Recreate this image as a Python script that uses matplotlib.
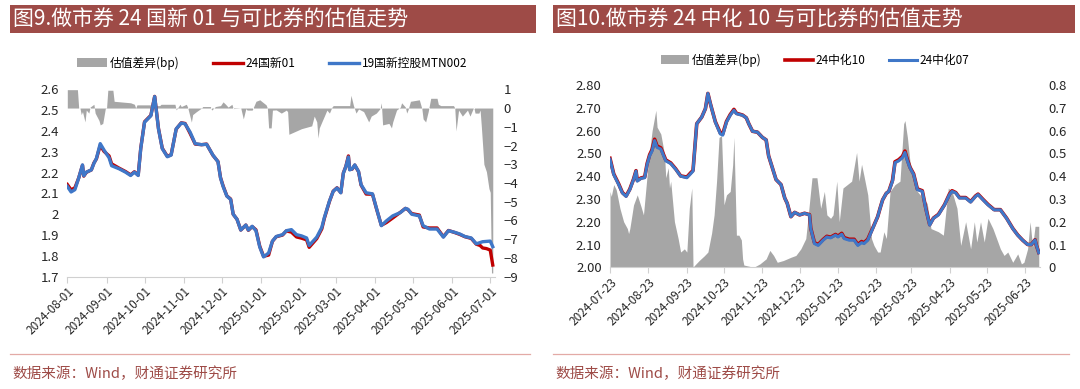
import numpy as np
import matplotlib
matplotlib.use('agg')
from matplotlib import pyplot as plt
import matplotlib.dates as md
from matplotlib.patches import Rectangle
from matplotlib.lines import Line2D
from matplotlib.ticker import FormatStrFormatter

plt.rcParams['font.family'] = ['Noto Sans CJK SC', 'DejaVu Sans']
plt.rcParams['axes.unicode_minus'] = True

# ---------------- left panel: 24国新01 vs 19国新控股MTN002 ----------------
# day offsets from 2024-08-01
left_start = '2024-08-01'
blue_l_days = [0, 3, 6, 9, 12, 13, 15, 19, 21, 23, 26, 29, 33, 35, 41, 46, 50, 53, 56, 58,
               61, 66, 69, 72, 75, 79, 82, 86, 90, 93, 97, 101, 106, 110, 115, 119, 121, 123,
               126, 129, 131, 134, 137, 141, 143, 146, 149, 152, 155, 159, 162, 165, 170, 173,
               177, 181, 185, 189, 191, 197, 201, 203, 207, 210, 213, 216, 218, 220, 222, 223,
               225, 227, 230, 232, 236, 241, 244, 248, 252, 257, 263, 267, 269, 272, 278, 281,
               286, 292, 297, 301, 306, 310, 314, 319, 323, 328, 334, 336]
blue_l_vals = [2.134, 2.107, 2.118, 2.174, 2.237, 2.185, 2.202, 2.213, 2.244, 2.268, 2.339,
               2.308, 2.271, 2.233, 2.218, 2.202, 2.186, 2.202, 2.186, 2.315, 2.442, 2.473,
               2.565, 2.410, 2.315, 2.276, 2.284, 2.410, 2.438, 2.434, 2.394, 2.339, 2.334,
               2.336, 2.284, 2.252, 2.174, 2.134, 2.087, 2.071, 2.000, 1.976, 1.924, 1.948,
               1.924, 1.942, 1.921, 1.842, 1.795, 1.814, 1.871, 1.893, 1.902, 1.921, 1.926,
               1.902, 1.896, 1.886, 1.850, 1.890, 1.937, 1.984, 2.063, 2.110, 2.126, 2.103,
               2.197, 2.229, 2.275, 2.213, 2.218, 2.237, 2.205, 2.142, 2.103, 2.098, 2.032,
               1.945, 1.968, 1.992, 2.008, 2.028, 2.024, 2.000, 1.992, 1.945, 1.929, 1.929,
               1.890, 1.921, 1.913, 1.905, 1.893, 1.886, 1.858, 1.868, 1.871, 1.844]
red_l_days = [0, 3, 6, 9, 12, 13, 15, 19, 21, 23, 26, 29, 33, 35, 41, 46, 50, 53, 56, 58,
              61, 66, 69, 72, 75, 79, 82, 86, 90, 93, 97, 101, 106, 110, 115, 119, 121, 123,
              126, 129, 131, 134, 137, 141, 143, 146, 149, 152, 155, 159, 162, 165, 170, 173,
              177, 181, 185, 189, 191, 197, 201, 203, 207, 210, 213, 216, 218, 220, 222, 223,
              225, 227, 230, 232, 236, 241, 244, 248, 252, 257, 263, 267, 269, 272, 278, 281,
              286, 292, 297, 301, 306, 310, 314, 319, 323, 326, 328, 331, 334, 336]
red_l_vals = [2.143, 2.117, 2.127, 2.174, 2.235, 2.183, 2.201, 2.213, 2.246, 2.266, 2.331,
              2.302, 2.280, 2.242, 2.221, 2.205, 2.189, 2.204, 2.188, 2.317, 2.444, 2.475,
              2.566, 2.412, 2.317, 2.278, 2.286, 2.409, 2.439, 2.436, 2.388, 2.337, 2.334,
              2.337, 2.283, 2.253, 2.176, 2.137, 2.088, 2.073, 2.000, 1.976, 1.924, 1.948,
              1.923, 1.941, 1.925, 1.846, 1.798, 1.804, 1.870, 1.892, 1.900, 1.920, 1.914,
              1.891, 1.885, 1.877, 1.841, 1.883, 1.930, 1.980, 2.061, 2.111, 2.127, 2.104,
              2.198, 2.230, 2.280, 2.215, 2.217, 2.236, 2.204, 2.140, 2.097, 2.096, 2.030,
              1.947, 1.960, 1.982, 2.009, 2.028, 2.022, 2.003, 1.996, 1.939, 1.934, 1.934,
              1.892, 1.922, 1.912, 1.903, 1.892, 1.884, 1.856, 1.850, 1.838, 1.835, 1.828, 1.756]
diff_l_days = [0, 8, 9, 10, 11, 12, 14, 15, 17, 18, 21, 22, 25, 26, 28, 30, 31, 32, 36, 37,
               50, 53, 54, 55, 66, 68, 73, 74, 85, 86, 89, 90, 94, 95, 98, 99, 102, 106, 107,
               113, 114, 117, 121, 123, 125, 127, 130, 131, 137, 139, 141, 142, 146, 149, 152,
               154, 157, 158, 159, 161, 162, 165, 169, 173, 174, 175, 180, 185, 193, 195, 197,
               198, 199, 201, 203, 205, 207, 209, 210, 223, 224, 226, 228, 230, 234, 238, 240,
               244, 247, 248, 249, 254, 256, 257, 260, 263, 264, 267, 268, 269, 271, 278, 280,
               281, 283, 285, 287, 292, 293, 295, 305, 306, 307, 309, 312, 316, 318, 321, 322,
               325, 326, 327, 329, 331, 333, 334, 335, 336]
diff_l_vals = [0.98, 0.98, 0.0, 0.0, -0.35, -0.19, -0.74, -0.11, -0.27, 0.05, 0.2, -0.27,
               -0.66, -0.9, -0.82, -0.03, 0.0, 0.95, 0.95, 0.36, 0.28, 0.2, 0.0, 0.17, 0.17, 0.13,
               0.13, 0.2, 0.2, -0.1, 0.2, 0.08, 0.2, 0.05, -0.75, -0.35, -0.19, 0.0, 0.08, 0.08,
               -0.11, 0.08, 0.13, 0.33, 0.2, 0.05, 0.2, -0.03, 0.0, -0.58, -0.03, -0.11, -0.11,
               0.36, 0.44, 0.33, 0.17, 0.0, -1.06, -1.06, -0.11, -0.1, -0.27, -0.11, -0.2, -1.4,
               -1.25, -1.1, -0.95, -0.43, -0.74, -1.6, -1.06, -0.74, -0.43, -0.11, -0.27, 0.05,
               0.13, 0.13, 0.68, 0.13, -0.27, -0.05, -0.19, -0.74, -0.43, -0.27, -0.03, 0.28,
               -0.9, -0.82, -1.06, -0.74, -0.11, 0.05, 0.28, 0.05, -0.27, -0.11, 0.36, 0.44,
               -0.03, -0.58, -0.74, -0.19, 0.52, 0.52, 0.2, 0.13, 0.13, 0.0, -1.22, -0.11, -0.43,
               -0.11, -0.43, 0.05, -0.27, -0.27, -0.11, -1.0, -3.0, -3.4, -4.3, -4.5, -8.8, -8.8]
left_ticks = ['2024-08-01', '2024-09-01', '2024-10-01', '2024-11-01', '2024-12-01',
              '2025-01-01', '2025-02-01', '2025-03-01', '2025-04-01', '2025-05-01',
              '2025-06-01', '2025-07-01']

# ---------------- right panel: 24中化10 vs 24中化07 ----------------
# day offsets from 2024-07-23
right_start = '2024-07-23'
blue_r_days = [0, 3, 7, 10, 13, 16, 19, 21, 22, 25, 28, 30, 32, 34, 36, 38, 41, 45, 49, 53,
               57, 62, 65, 67, 70, 74, 77, 79, 81, 85, 89, 91, 94, 97, 100, 102, 107, 110, 112,
               115, 119, 123, 126, 128, 131, 134, 138, 141, 143, 146, 149, 153, 157, 161, 162,
               165, 168, 172, 175, 178, 182, 184, 187, 189, 193, 197, 200, 203, 205, 208, 212,
               216, 218, 220, 223, 225, 228, 230, 233, 236, 238, 240, 242, 245, 248, 252, 255,
               258, 261, 265, 270, 274, 276, 279, 282, 287, 291, 295, 297, 301, 305, 310, 315,
               320, 325, 329, 333, 337, 340, 343, 344, 346]
blue_r_vals = [2.474, 2.407, 2.363, 2.326, 2.311, 2.341, 2.385, 2.422, 2.378, 2.390, 2.393,
               2.452, 2.489, 2.511, 2.556, 2.526, 2.519, 2.467, 2.455, 2.430, 2.400, 2.393,
               2.410, 2.422, 2.630, 2.659, 2.696, 2.763, 2.718, 2.637, 2.585, 2.580, 2.637,
               2.667, 2.689, 2.674, 2.667, 2.656, 2.630, 2.597, 2.593, 2.570, 2.559, 2.489,
               2.437, 2.385, 2.363, 2.304, 2.281, 2.222, 2.241, 2.230, 2.237, 2.230, 2.170,
               2.104, 2.096, 2.119, 2.133, 2.129, 2.141, 2.133, 2.145, 2.126, 2.119, 2.119,
               2.096, 2.108, 2.104, 2.119, 2.170, 2.222, 2.260, 2.296, 2.325, 2.333, 2.378,
               2.459, 2.467, 2.481, 2.504, 2.467, 2.437, 2.407, 2.341, 2.333, 2.252, 2.185,
               2.215, 2.230, 2.274, 2.319, 2.333, 2.326, 2.304, 2.304, 2.286, 2.311, 2.319,
               2.296, 2.274, 2.252, 2.252, 2.215, 2.170, 2.141, 2.119, 2.100, 2.100, 2.120,
               2.098, 2.064]
red_r_days = blue_r_days
red_r_vals = [2.478, 2.410, 2.366, 2.328, 2.313, 2.343, 2.387, 2.424, 2.381, 2.392, 2.396,
              2.456, 2.494, 2.517, 2.562, 2.532, 2.524, 2.471, 2.458, 2.432, 2.401, 2.396,
              2.414, 2.425, 2.630, 2.659, 2.696, 2.763, 2.718, 2.639, 2.590, 2.586, 2.640,
              2.670, 2.693, 2.676, 2.668, 2.656, 2.630, 2.597, 2.593, 2.570, 2.559, 2.489,
              2.437, 2.385, 2.363, 2.304, 2.281, 2.222, 2.241, 2.230, 2.237, 2.231, 2.172,
              2.108, 2.100, 2.122, 2.136, 2.132, 2.144, 2.137, 2.149, 2.130, 2.123, 2.123,
              2.100, 2.113, 2.108, 2.123, 2.172, 2.222, 2.260, 2.296, 2.325, 2.333, 2.382,
              2.463, 2.472, 2.487, 2.510, 2.472, 2.440, 2.410, 2.344, 2.336, 2.255, 2.187,
              2.216, 2.232, 2.275, 2.322, 2.336, 2.328, 2.306, 2.306, 2.288, 2.313, 2.321,
              2.298, 2.276, 2.253, 2.253, 2.216, 2.171, 2.142, 2.119, 2.100, 2.100, 2.121,
              2.098, 2.065]
diff_r_days = [0, 1, 3, 5, 8, 11, 14, 15, 16, 19, 22, 25, 27, 29, 31, 34, 37, 38, 41, 44,
               45, 47, 48, 49, 52, 55, 57, 60, 62, 64, 66, 67, 68, 72, 76, 79, 82, 84, 86, 88,
               90, 92, 94, 97, 99, 100, 102, 104, 106, 107, 108, 116, 121, 126, 129, 132, 135,
               140, 146, 150, 154, 158, 160, 163, 167, 170, 173, 175, 178, 180, 183, 185, 188,
               195, 199, 201, 203, 205, 208, 211, 213, 216, 218, 221, 223, 226, 230, 234, 237,
               238, 240, 242, 245, 248, 253, 256, 259, 265, 269, 273, 276, 280, 283, 287, 291,
               294, 296, 299, 302, 305, 309, 313, 315, 318, 321, 325, 329, 332, 334, 337, 339,
               341, 343, 346]
diff_r_vals = [0.333, 0.311, 0.363, 0.341, 0.259, 0.2, 0.17, 0.148, 0.17, 0.274, 0.318, 0.267,
               0.23, 0.348, 0.467, 0.6, 0.689, 0.615, 0.585, 0.496, 0.393, 0.437, 0.348, 0.378,
               0.2, 0.126, 0.067, 0.081, 0.067, 0.259, 0.348, 0.0, 0.007, 0.03, 0.05, 0.067,
               0.15, 0.23, 0.378, 0.57, 0.578, 0.274, 0.318, 0.333, 0.45, 0.57, 0.141, 0.141,
               0.12, 0.037, 0.01, 0.0, 0.015, 0.037, 0.074, 0.052, 0.022, 0.03, 0.044, 0.052,
               0.081, 0.126, 0.23, 0.393, 0.393, 0.259, 0.333, 0.23, 0.215, 0.23, 0.378, 0.2,
               0.348, 0.378, 0.504, 0.378, 0.452, 0.4, 0.318, 0.126, 0.096, 0.067, 0.067, 0.156,
               0.126, 0.333, 0.363, 0.378, 0.63, 0.644, 0.57, 0.467, 0.393, 0.333, 0.3, 0.28,
               0.17, 0.156, 0.141, 0.348, 0.333, 0.259, 0.096, 0.2, 0.081, 0.2, 0.111, 0.2,
               0.111, 0.215, 0.17, 0.111, 0.081, 0.052, 0.067, 0.022, 0.059, 0.015, 0.022,
               0.081, 0.2, 0.09, 0.18, 0.18]
right_ticks = ['2024-07-23', '2024-08-23', '2024-09-23', '2024-10-23', '2024-11-23',
               '2024-12-23', '2025-01-23', '2025-02-23', '2025-03-23', '2025-04-23',
               '2025-05-23', '2025-06-23']

RED = '#C00000'
BLUE = '#3F77C8'
GRAY = '#A6A6A6'
BAR = '#9E4B47'
TXT = '#262626'


def to_dates(start, days):
    return np.datetime64(start) + np.array(days).astype('timedelta64[D]')


def style_axes(ax, ax2, ticks):
    for a in (ax, ax2):
        for s in ('top', 'left', 'right', 'bottom'):
            a.spines[s].set_visible(False)
        a.tick_params(axis='y', length=0, labelsize=9.5, colors=TXT, pad=6)
    ax.spines['bottom'].set_visible(True)
    ax.spines['bottom'].set_color('#D0D0D0')
    ax.set_xticks([np.datetime64(t) for t in ticks])
    ax.xaxis.set_major_formatter(md.DateFormatter('%Y-%m-%d'))
    ax.tick_params(axis='x', length=4, labelsize=8.5, pad=2,
                   colors='#D0D0D0', labelcolor=TXT)
    for lab in ax.get_xticklabels():
        lab.set_rotation(45)
        lab.set_ha('right')
        lab.set_rotation_mode('anchor')
    # lines above the grey area of the twin axis
    ax.set_zorder(ax2.get_zorder() + 1)
    ax.patch.set_visible(False)


fig = plt.figure(figsize=(10.8, 3.89), dpi=100)
W, H = 1080.0, 389.0

# title bars and footers
for x0, x1, title in ((10, 536, '图9.做市券 24 国新 01 与可比券的估值走势'),
                      (553, 1075, '图10.做市券 24 中化 10 与可比券的估值走势')):
    fig.add_artist(Rectangle((x0 / W, 1 - 33 / H), (x1 - x0) / W, 28 / H,
                             transform=fig.transFigure, color=BAR, lw=0))
    fig.text((x0 + 3) / W, 1 - 19.5 / H, title, color='white', fontsize=15,
             va='center', ha='left')
    fig.add_artist(Line2D([x0 / W, (x1 - 6) / W], [1 - 354 / H, 1 - 354 / H],
                          transform=fig.transFigure, color='#E3AAA6', lw=0.9))
    fig.text((x0 + 2) / W, 1 - 374 / H, '数据来源：Wind，财通证券研究所', color=BAR,
             fontsize=10.5, va='center', ha='left')

# ---- left chart
axL = fig.add_axes([67.3 / W, 1 - 276.7 / H, 428 / W, 187.4 / H])
axL2 = axL.twinx()
axL2.fill_between(to_dates(left_start, diff_l_days), 0, diff_l_vals, color=GRAY, lw=0,
                  label='估值差异(bp)')
axL.plot(to_dates(left_start, red_l_days), red_l_vals, color=RED, lw=2.4, label='24国新01')
axL.plot(to_dates(left_start, blue_l_days), blue_l_vals, color=BLUE, lw=2.4,
         label='19国新控股MTN002')
axL.set_ylim(1.7, 2.6)
axL.set_yticks(np.arange(1.7, 2.61, 0.1))
axL.yaxis.set_major_formatter(plt.FuncFormatter(lambda v, p: '%g' % round(v, 2)))
axL2.set_ylim(-9, 1)
axL2.set_yticks(range(-9, 2))
axL.set_xlim(np.datetime64(left_start), to_dates(left_start, [338])[0])
style_axes(axL, axL2, left_ticks)
hL = [axL2.get_legend_handles_labels()[0][0]] + axL.get_legend_handles_labels()[0]
fig.legend(hL, [h.get_label() for h in hL], loc='center', ncol=3, frameon=False,
           bbox_to_anchor=(272 / W, 1 - 63 / H), fontsize=8.5, handlelength=2.6,
           handleheight=0.7, columnspacing=2.8, handletextpad=0.2)

# ---- right chart
axR = fig.add_axes([610 / W, 1 - 267.3 / H, 430 / W, 182.3 / H])
axR2 = axR.twinx()
axR2.fill_between(to_dates(right_start, diff_r_days), 0, diff_r_vals, color=GRAY, lw=0,
                  label='估值差异(bp)')
axR.plot(to_dates(right_start, red_r_days), red_r_vals, color=RED, lw=2.6, label='24中化10')
axR.plot(to_dates(right_start, blue_r_days), blue_r_vals, color=BLUE, lw=2.2,
         label='24中化07')
axR.set_ylim(2.0, 2.8)
axR.set_yticks(np.arange(2.0, 2.81, 0.1))
axR.yaxis.set_major_formatter(FormatStrFormatter('%.2f'))
axR2.set_ylim(0, 0.8)
axR2.set_yticks(np.arange(0, 0.81, 0.1))
axR2.yaxis.set_major_formatter(plt.FuncFormatter(lambda v, p: '%g' % round(v, 2)))
axR.set_xlim(np.datetime64(right_start), to_dates(right_start, [347])[0])
style_axes(axR, axR2, right_ticks)
hR = [axR2.get_legend_handles_labels()[0][0]] + axR.get_legend_handles_labels()[0]
fig.legend(hR, [h.get_label() for h in hR], loc='center', ncol=3, frameon=False,
           bbox_to_anchor=(815 / W, 1 - 60 / H), fontsize=8.5, handlelength=2.4,
           handleheight=0.7, columnspacing=2.0, handletextpad=0.2)

fig.savefig('out.png', dpi=100)
